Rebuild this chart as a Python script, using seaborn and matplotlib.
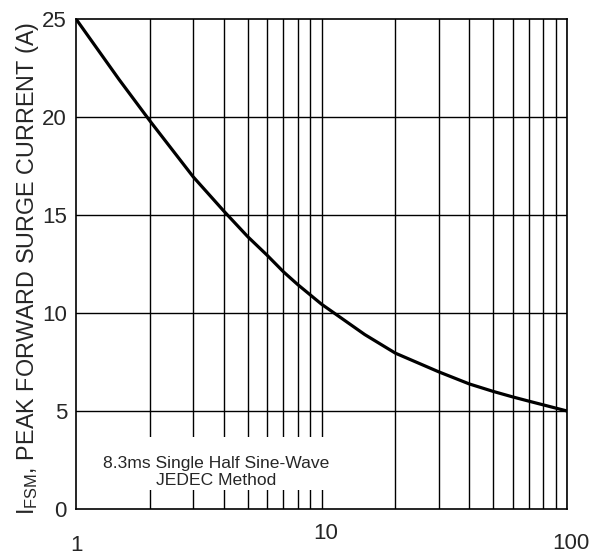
import numpy as np
import pandas as pd
import matplotlib
matplotlib.use('Agg')
import matplotlib.pyplot as plt
import matplotlib.transforms as mtransforms
from matplotlib.patches import Rectangle
import seaborn as sns

# number of cycles at 60Hz vs peak surge current
cycles = [1, 1.5, 2, 3, 4, 5, 6, 7, 8, 10, 15, 20, 30, 40, 50, 60, 70, 100]
current = [25, 21.9, 19.8, 16.95, 15.2, 13.9, 12.95, 12.1, 11.45, 10.45, 8.9, 7.95, 7.0,
           6.38, 6.0, 5.72, 5.5, 5.0]
y_ticks = [0, 5, 10, 15, 20, 25]
x_ticks = [1, 10, 100]
x_tick_labels = ['1', '10', '100']

sns.set_style('white')
plt.rcParams['font.family'] = ['Liberation Sans', 'DejaVu Sans']
plt.rcParams['mathtext.fontset'] = 'custom'
plt.rcParams['mathtext.rm'] = 'Liberation Sans'

df = pd.DataFrame({'cycles': cycles, 'current': current})

fig = plt.figure(figsize=(6, 5.55), dpi=100)
ax = fig.add_axes([0.1267, 0.0829, 0.8183, 0.8829])

sns.lineplot(data=df, x='cycles', y='current', color='black', linewidth=2.3, ax=ax, zorder=3)

ax.set_xscale('log')
ax.set_xlim(1, 100)
ax.set_ylim(0, 25)

# grid at every minor decade step
for d in [1, 10]:
    for m in range(2, 11):
        ax.axvline(d * m, color='black', linewidth=1, zorder=1)
for v in [5, 10, 15, 20]:
    ax.axhline(v, color='black', linewidth=1, zorder=1)

for s in ax.spines.values():
    s.set_color('black')
    s.set_linewidth(1.2)

ax.set_yticks(y_ticks)
ax.set_yticklabels([str(v) for v in y_ticks], fontsize=16)
ax.set_xticks(x_ticks)
ax.set_xticklabels(x_tick_labels, fontsize=16)
ax.xaxis.set_minor_locator(plt.NullLocator())
ax.tick_params(axis='both', length=0)
ax.tick_params(axis='x', pad=18.5)
ax.tick_params(axis='y', pad=6.5)

# "10" sits higher than the others, "10" and "100" a bit right
shifts = [(0, 0), (3, 8.5), (3, 1.5)]
for lbl, (dx, dy) in zip(ax.get_xticklabels(), shifts):
    lbl.set_transform(lbl.get_transform() + mtransforms.ScaledTranslation(dx / 72, dy / 72, fig.dpi_scale_trans))

ax.set_xlabel('')
ax.set_ylabel(r'I$_{\mathrm{FSM}}$, PEAK FORWARD SURGE CURRENT (A)', fontsize=16.8)
ax.yaxis.set_label_coords(-0.072, 0.49)

# white patch behind the note, breaking the grid lines
ax.add_patch(Rectangle((1.3, 0.97), 9.4, 2.7, facecolor='white', edgecolor='none', zorder=2))
ax.text(3.71, 1.9, '8.3ms Single Half Sine-Wave\nJEDEC Method', ha='center', va='center',
        fontsize=12.6, linespacing=1.2, zorder=4)

fig.savefig('out.png', dpi=100)
